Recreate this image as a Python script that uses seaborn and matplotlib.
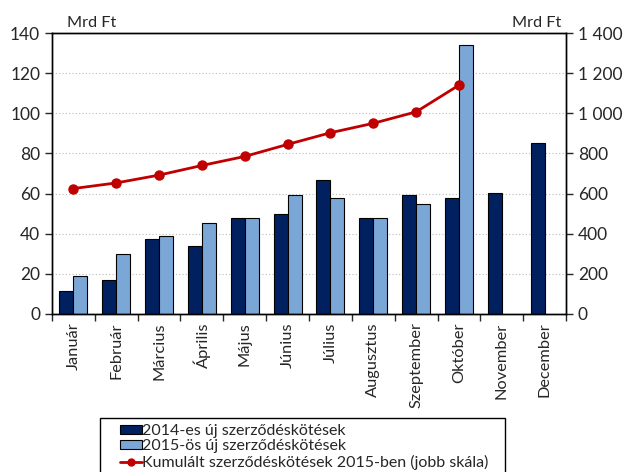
import numpy as np
import pandas as pd
import seaborn as sns
import matplotlib.pyplot as plt
from matplotlib.patches import Patch, Rectangle
from matplotlib.lines import Line2D

months = ["Január", "Február", "Március", "Április", "Május", "Június",
          "Július", "Augusztus", "Szeptember", "Október", "November", "December"]
new_2014 = [11.3, 16.7, 37.2, 34.0, 47.8, 50.0, 67.0, 47.8, 59.5, 57.7, 60.3, 85.2]
new_2015 = [19.0, 29.7, 38.7, 45.2, 47.8, 59.5, 58.0, 48.0, 55.0, 134.2, np.nan, np.nan]
cum_2015 = [625, 653, 692, 740, 785, 845, 903, 950, 1007, 1140]

lab_2014 = "2014-es új szerződéskötések"
lab_2015 = "2015-ös új szerződéskötések"
lab_cum = "Kumulált szerződéskötések 2015-ben (jobb skála)"

dark = "#002060"
light = "#7BA7D7"
red = "#C00000"

sns.set_style("white")
plt.rcParams["font.family"] = ["Lato", "DejaVu Sans"]
plt.rcParams["font.size"] = 11.7

df = pd.DataFrame({
    "month": months * 2,
    "series": [lab_2014] * 12 + [lab_2015] * 12,
    "value": new_2014 + new_2015,
})

fig = plt.figure(figsize=(6.23, 4.72), dpi=100)
ax = fig.add_axes([52 / 623, 1 - 314 / 472, (566 - 52) / 623, (314 - 33) / 472])

sns.barplot(data=df, x="month", y="value", hue="series", order=months,
            hue_order=[lab_2014, lab_2015], palette=[dark, light], saturation=1,
            width=0.65, edgecolor="black", linewidth=0.8, ax=ax, legend=False)

ax.set_xlim(-0.5, 11.5)
ax.set_ylim(0, 140)
ax.set_yticks(range(0, 141, 20))
ax.set_xlabel("")
ax.set_ylabel("")
ax.yaxis.grid(True, linestyle=(0, (1, 2)), color="#BBBBBB", linewidth=0.8)
ax.set_axisbelow(True)
for s in ax.spines.values():
    s.set_color("black")
    s.set_linewidth(1)

ax.set_xticks(range(12))
ax.set_xticklabels(months, rotation=90, fontsize=11.8)
ax.set_xticks(np.arange(-0.5, 12, 1), minor=True)
ax.tick_params(axis="x", which="major", length=0, pad=6)
ax.tick_params(axis="x", which="minor", length=5, width=1, direction="out", bottom=True)
ax.tick_params(axis="y", length=5, width=1, direction="out", left=True, labelsize=12.5)

ax2 = ax.twinx()
ax2.plot(range(len(cum_2015)), cum_2015, color=red, lw=2, marker="o", markersize=6.5)
ax2.set_ylim(0, 1400)
ax2.set_yticks(range(0, 1401, 200))
ax2.set_yticklabels([f"{v:,}".replace(",", " ") for v in range(0, 1401, 200)])
ax2.tick_params(axis="y", length=5, width=1, direction="out", right=True, labelsize=12.5)
for s in ax2.spines.values():
    s.set_color("black")
    s.set_linewidth(1)

ax.text(0.03, 1.01, "Mrd Ft", transform=ax.transAxes, ha="left", va="bottom", fontsize=11.7)
ax.text(0.99, 1.01, "Mrd Ft", transform=ax.transAxes, ha="right", va="bottom", fontsize=11.7)

# legend box drawn over the long month labels
fig.patches.append(Rectangle((100 / 623, -0.05), (505 - 100) / 623, 0.05 + 1 - 418 / 472,
                             transform=fig.transFigure, facecolor="white",
                             edgecolor="black", linewidth=1, zorder=1))
handles = [Patch(facecolor=dark, edgecolor="black", linewidth=0.8),
           Patch(facecolor=light, edgecolor="black", linewidth=0.8),
           Line2D([], [], color=red, lw=2, marker="o", markersize=5)]
fig.legend(handles, [lab_2014, lab_2015, lab_cum], loc="upper left",
           bbox_to_anchor=(120 / 623, 1 - 424 / 472), frameon=False,
           fontsize=11.5, handlelength=1.35, handleheight=0.5, handletextpad=0.05,
           labelspacing=0.08, borderpad=0, borderaxespad=0)

fig.savefig("out.png", dpi=100)
